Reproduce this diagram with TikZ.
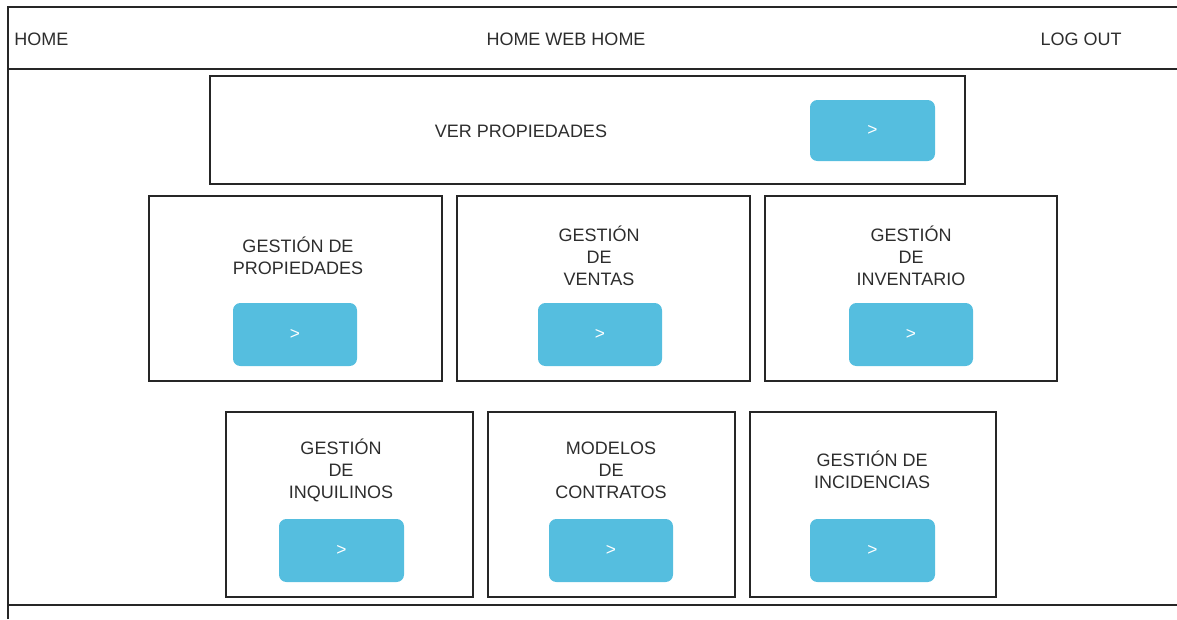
\documentclass[tikz,border=0pt]{standalone}
\usepackage{fontspec}
\setmainfont{Liberation Sans}
\definecolor{btn}{RGB}{85,190,223}
\definecolor{txt}{RGB}{45,45,45}
\begin{document}
\begin{tikzpicture}[x=0.75pt,y=-0.75pt,
  card/.style={draw=black!85,line width=0.9pt},
  btnbox/.style={fill=btn,rounded corners=5.5pt,draw=none,text=white,font=\fontsize{13}{15}\selectfont},
  lbl/.style={text=txt,font=\fontsize{13.5}{16.5}\selectfont,align=center,inner sep=0pt},
  frame/.style={draw=black!85,line width=1.1pt}]
\useasboundingbox (0,0) rectangle (1177,619);
% frame
\draw[frame] (8,619) -- (8,7) -- (1177,7);
\draw[frame] (9,69) -- (1177,69);
\draw[frame] (8,605) -- (1177,605);
\node[lbl,anchor=west] (home) at (14,39) {HOME};
\node[lbl] (title) at (566,39) {HOME WEB HOME};
\node[lbl] (logout) at (1081,39) {LOG OUT};
% ver propiedades
\draw[card] (210,76) rectangle (965,184);
\node[lbl] (ver) at (521,131) {VER PROPIEDADES};
\draw[btnbox] (810,100) rectangle node (bver) {>} (935,161);
% row 2
\draw[card] (149,196) rectangle (442,381);
\node[lbl] (gp) at (298,256) {GESTIÓN DE\\PROPIEDADES};
\draw[btnbox] (233,303) rectangle node (bgp) {>} (357,366);
\draw[card] (457,196) rectangle (750,381);
\node[lbl] (gv) at (599,256) {GESTIÓN\\DE\\VENTAS};
\draw[btnbox] (538,303) rectangle node (bgv) {>} (662,366);
\draw[card] (765,196) rectangle (1057,381);
\node[lbl] (gi) at (911,256) {GESTIÓN\\DE\\INVENTARIO};
\draw[btnbox] (849,303) rectangle node (bgi) {>} (973,366);
% row 3
\draw[card] (226,412) rectangle (473,597);
\node[lbl] (gq) at (341,470) {GESTIÓN\\DE\\INQUILINOS};
\draw[btnbox] (279,519) rectangle node (bgq) {>} (404,582);
\draw[card] (488,412) rectangle (735,597);
\node[lbl] (mc) at (611,470) {MODELOS\\DE\\CONTRATOS};
\draw[btnbox] (549,519) rectangle node (bmc) {>} (673,582);
\draw[card] (750,412) rectangle (996,597);
\node[lbl] (gc) at (872,470) {GESTIÓN DE\\INCIDENCIAS};
\draw[btnbox] (810,519) rectangle node (bgc) {>} (935,582);
\end{tikzpicture}
\end{document}
